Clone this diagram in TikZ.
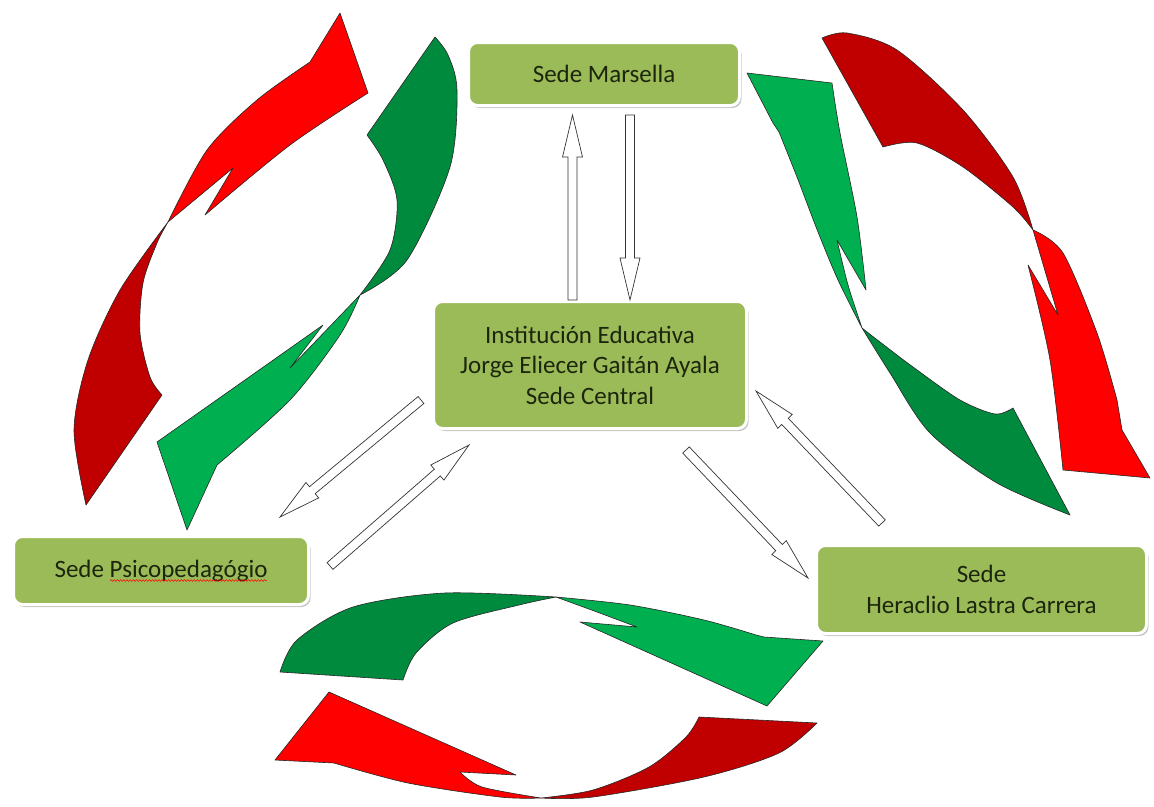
\documentclass[tikz,border=0pt]{standalone}
\usepackage{fontspec}
\setmainfont{Carlito}
\usetikzlibrary{calc,shadows,decorations.pathmorphing}
\definecolor{gdark}{RGB}{0,138,62}
\definecolor{glight}{RGB}{0,176,80}
\definecolor{rdark}{RGB}{192,0,0}
\definecolor{rlight}{RGB}{255,0,0}
\definecolor{olivebox}{RGB}{155,187,89}
\definecolor{boxtext}{RGB}{28,38,12}
% hollow block arrow from #1 (tail) to #2 (tip)
\newcommand\blockarrow[2]{%
  \coordinate (ba-h) at ($(#2)!42pt!(#1)$);
  \draw[blockarr] ($(#1)!4.5pt!90:(#2)$) -- ($(ba-h)!4.5pt!90:(#2)$) --
    ($(ba-h)!10pt!90:(#2)$) -- (#2) -- ($(ba-h)!10pt!-90:(#2)$) --
    ($(ba-h)!4.5pt!-90:(#2)$) -- ($(#1)!4.5pt!-90:(#2)$) -- cycle;}
\begin{document}
\begin{tikzpicture}[x=1pt,y=-1pt,
  swoosh/.style={draw=black!85,line width=0.6pt,line join=round},
  sedebox/.style={rectangle,rounded corners=9pt,fill=olivebox,draw=white,line width=3pt,
     drop shadow={shadow xshift=2pt,shadow yshift=-2.5pt,opacity=.45,fill=black!50},
     text=boxtext,font=\fontsize{25}{30.5}\selectfont,align=center,inner sep=0pt},
  blockarr/.style={draw=black!80,line width=0.7pt,fill=white,line join=miter}]
\useasboundingbox (0,0) rectangle (1154,806);
\fill[white] (0,0) rectangle (1154,806);

% ---- left pair
\filldraw[swoosh,fill=rlight] plot[smooth] coordinates {(168,222) (207,150) (257,100) (310,62)} -- (340,13) -- (368,93) -- plot[smooth] coordinates {(368,93) (290,145) (205,215)} -- (233,168) -- cycle;
\filldraw[swoosh,fill=rdark] plot[smooth] coordinates {(168,222) (120,290) (88,360) (74,430) (86,505)} -- (162,395) -- plot[smooth] coordinates {(162,395) (150,377) (140,333) (143,283) (157,243) (168,222)} -- cycle;
\filldraw[swoosh,fill=gdark] plot[smooth] coordinates {(360,295) (407,260) (450,167) (457,90) (448,55) (435,37)} -- (367,135) -- plot[smooth] coordinates {(367,135) (383,160) (397,200) (390,250) (360,295)} -- cycle;
\filldraw[swoosh,fill=glight] (360,295) -- (290,368) -- (323,325) -- (157,442) -- (187,530) -- (217,465) -- plot[smooth] coordinates {(217,465) (290,400) (340,335) (360,295)} -- cycle;

% ---- right pair
\filldraw[swoosh,fill=glight] (747,73) -- (832,83) -- plot[smooth] coordinates {(832,83) (840,133) (857,217) (866,290)} -- (837,240) -- plot[smooth] coordinates {(837,240) (848,285) (862,328)} -- plot[smooth] coordinates {(862,328) (838,280) (818,232) (797,177) (779,132)} -- (773,123) -- cycle;
\filldraw[swoosh,fill=gdark] plot[smooth] coordinates {(862,328) (890,373) (930,433) (997,483) (1070,515)} -- (1013,408) -- plot[smooth] coordinates {(1013,408) (995,414) (960,400) (913,367) (880,342) (862,328)} -- cycle;
\filldraw[swoosh,fill=rdark] plot[smooth] coordinates {(1033,230) (1013,177) (963,110) (897,50) (847,33) (822,38)} -- (883,147) -- plot[smooth] coordinates {(883,147) (917,143) (963,167) (1013,207) (1033,230)} -- cycle;
\filldraw[swoosh,fill=rlight] plot[smooth] coordinates {(1033,230) (1063,253) (1097,333) (1117,400)} -- (1122,430) -- (1150,478) -- (1063,470) -- plot[smooth] coordinates {(1063,470) (1050,360) (1028,265)} -- (1058,315) -- cycle;

% ---- bottom pair
\filldraw[swoosh,fill=gdark] plot[smooth] coordinates {(280,672) (297,640) (353,607) (445,593) (556,597)} -- plot[smooth] coordinates {(556,597) (519,605) (453,623) (416,653) (403,680)} -- cycle;
\filldraw[swoosh,fill=glight] plot[smooth] coordinates {(556,597) (630,605) (704,620) (756,635)} -- (764,637) -- (823,641) -- (767,706) -- (580,622) -- (637,627) -- plot[smooth] coordinates {(637,627) (597,612) (556,597)} -- cycle;
\filldraw[swoosh,fill=rlight] (329,692) -- (516,775) -- (460,772) -- plot[smooth] coordinates {(460,772) (482,787) (541,798)} -- plot[smooth] coordinates {(541,798) (500,797) (408,783) (334,763)} -- (275,760) -- cycle;
\filldraw[swoosh,fill=rdark] plot[smooth] coordinates {(541,798) (593,797) (704,777) (779,753) (817,723)} -- (699,717) -- plot[smooth] coordinates {(699,717) (686,737) (649,767) (593,790) (541,798)} -- cycle;

% ---- boxes
\node[sedebox,minimum width=271pt,minimum height=63pt] (marsella) at (604,74) {Sede Marsella};
\node[sedebox,minimum width=313pt,minimum height=127pt] (central) at (590,365) {Institución Educativa\\Jorge Eliecer Gaitán Ayala\\Sede Central};
\node[sedebox,minimum width=295pt,minimum height=68pt] (psico) at (161,570.5) {Sede Psicopedagógio};
\node[sedebox,minimum width=330pt,minimum height=88pt] (heraclio) at (981.5,589.5) {Sede\\Heraclio Lastra Carrera};
\draw[red,line width=0.5pt,decorate,decoration={snake,amplitude=0.9pt,segment length=3.2pt}]
  ($(psico.center)+(-51,10)$) -- ($(psico.center)+(106,10)$);

% ---- block arrows
\coordinate (upT) at ($(central.north)+(-17.5,0)$);
\coordinate (upH) at ($(marsella.south)+(-31.5,8)$);
\coordinate (dnT) at ($(marsella.south)+(26,8)$);
\coordinate (dnH) at ($(central.north)+(40,0)$);
\coordinate (cpT) at (421,400);
\coordinate (cpH) at (280,517);
\coordinate (pcT) at (330,566);
\coordinate (pcH) at (469,445);
\coordinate (chT) at (686,450);
\coordinate (chH) at (808,578);
\coordinate (hcT) at (882,523);
\coordinate (hcH) at (756,391);
\blockarrow{upT}{upH}
\blockarrow{dnT}{dnH}
\blockarrow{cpT}{cpH}
\blockarrow{pcT}{pcH}
\blockarrow{chT}{chH}
\blockarrow{hcT}{hcH}
\end{tikzpicture}
\end{document}
